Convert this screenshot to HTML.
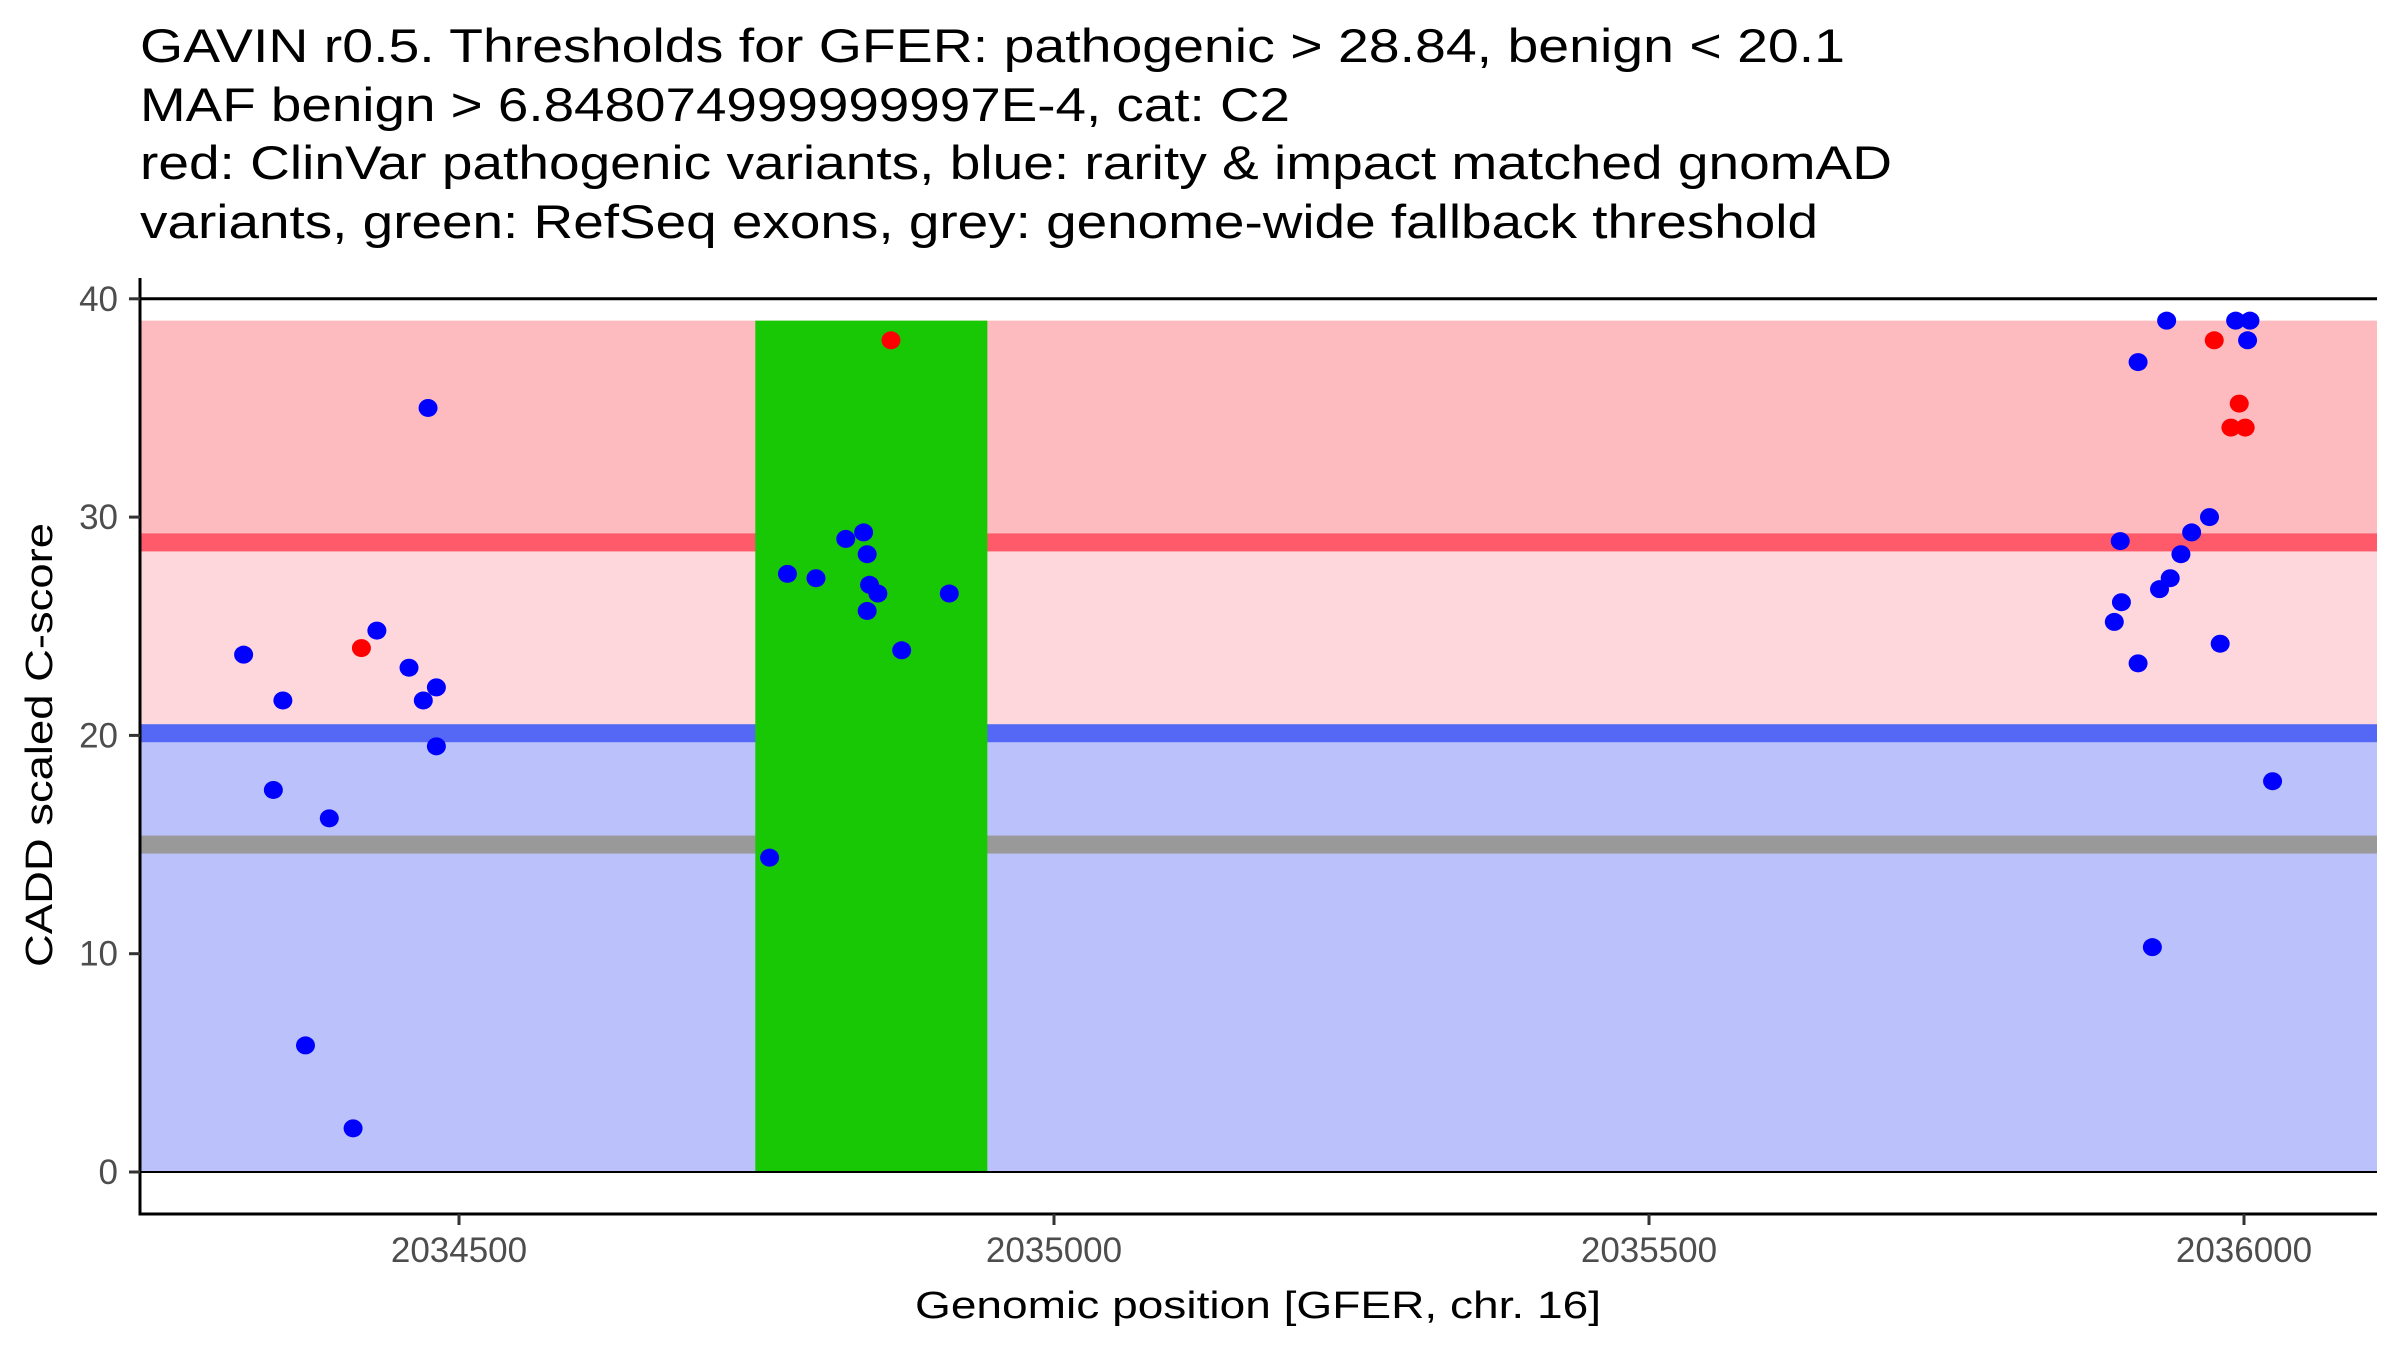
<!DOCTYPE html>
<html><head><meta charset="utf-8"><style>
html,body{margin:0;padding:0;background:#fff;}
svg{display:block;}
text{font-family:"Liberation Sans",Arial,sans-serif;}
</style></head><body>
<svg id="chart" width="2400" height="1350" viewBox="0 0 2400 1350" xmlns="http://www.w3.org/2000/svg">
<g font-size="47" fill="#000">
<text x="140" y="62" textLength="1705" lengthAdjust="spacingAndGlyphs">GAVIN r0.5. Thresholds for GFER: pathogenic &gt; 28.84, benign &lt; 20.1</text>
<text x="140" y="121" textLength="1150" lengthAdjust="spacingAndGlyphs">MAF benign &gt; 6.848074999999997E-4, cat: C2</text>
<text x="140" y="179" textLength="1752" lengthAdjust="spacingAndGlyphs">red: ClinVar pathogenic variants, blue: rarity &amp; impact matched gnomAD</text>
<text x="140" y="238" textLength="1678" lengthAdjust="spacingAndGlyphs">variants, green: RefSeq exons, grey: genome-wide fallback threshold</text>
</g>
<g id="bands"></g>
<g id="marks"></g>
<g id="axes"></g>
<text transform="translate(52,745) rotate(-90)" text-anchor="middle" font-size="38" textLength="444" lengthAdjust="spacingAndGlyphs">CADD scaled C-score</text>
<text x="1258" y="1318" text-anchor="middle" font-size="38" textLength="686" lengthAdjust="spacingAndGlyphs">Genomic position [GFER, chr. 16]</text>
</svg>
<script>
const xTicks = [2034500, 2035000, 2035500, 2036000];
const yTicks = [0, 10, 20, 30, 40];
const thrPathogenic = 28.84;
const thrBenign = 20.1;
const thrFallback = 15;
const bandTop = 39;
const exonStart = 2034749;
const exonEnd = 2034944;
const blueX = [2034319,2034344,2034352,2034371,2034391,2034411,2034431,2034458,2034474,2034470,2034481,2034481,
 2034761,2034776,2034800,2034825,2034840,2034843,2034845,2034852,2034843,2034872,2034912,
 2035891,2035896,2035897,2035911,2035911,2035923,2035929,2035935,2035938,2035947,2035956,2035971,2035980,2035993,2036005,2036003,2036024];
const blueY = [23.7,17.5,21.6,5.8,16.2,2.0,24.8,23.1,35.0,21.6,22.2,19.5,
 14.4,27.4,27.2,29.0,29.3,28.3,26.9,26.5,25.7,23.9,26.5,
 25.2,28.9,26.1,37.1,23.3,10.3,26.7,39.0,27.2,28.3,29.3,30.0,24.2,39.0,39.0,38.1,17.9];
const redX = [2034418, 2034863, 2035975, 2035996, 2035989, 2036001];
const redY = [24.0, 38.1, 38.1, 35.2, 34.1, 34.1];

const L=140, R=2377, T=278, B=1214;
const X = v => 459 + (v - 2034500) * (595/500);
const Y = v => 1172 - v * 21.83;
const NS="http://www.w3.org/2000/svg";
function mk(tag, parent, attrs){const e=document.createElementNS(NS,tag);for(const k in attrs)e.setAttribute(k,attrs[k]);parent.appendChild(e);return e;}
const bands=document.getElementById('bands'), marks=document.getElementById('marks'), axes=document.getElementById('axes');

let e;
e=mk('rect',bands,{x:L,y:Y(bandTop),width:R-L,height:Y(thrPathogenic)-Y(bandTop),fill:'#fdbbc0'});


e=mk('rect',bands,{x:L,y:Y(thrPathogenic),width:R-L,height:Y(thrBenign)-Y(thrPathogenic),fill:'#fdd7dc'});


e=mk('rect',bands,{x:L,y:Y(thrBenign),width:R-L,height:Y(0)-Y(thrBenign),fill:'#bbc1fa'});


e=mk('rect',bands,{x:L,y:Y(thrPathogenic)-9,width:R-L,height:18,fill:'#ff5a6a'});


e=mk('rect',bands,{x:L,y:Y(thrBenign)-9,width:R-L,height:18,fill:'#5468f5'});


e=mk('rect',bands,{x:L,y:Y(thrFallback)-9,width:R-L,height:18,fill:'#999999'});


e=mk('rect',bands,{x:X(exonStart),y:Y(bandTop),width:X(exonEnd)-X(exonStart),height:Y(0)-Y(bandTop),fill:'#19c805'});


e=mk('line',bands,{x1:L,x2:R,y1:Y(40),y2:Y(40),stroke:'#000','stroke-width':3});


e=mk('line',bands,{x1:L,x2:R,y1:Y(0),y2:Y(0),stroke:'#000','stroke-width':2});



for(let i=0;i<blueX.length;i++){
  const c=mk('ellipse',marks,{cx:X(blueX[i]),cy:Y(blueY[i]),rx:9.5,ry:9,fill:'#0000ff'});
  
  
}
for(let i=0;i<redX.length;i++){
  const c=mk('ellipse',marks,{cx:X(redX[i]),cy:Y(redY[i]),rx:9.5,ry:9,fill:'#ff0000'});
  
  
}

e=mk('line',axes,{x1:L,x2:L,y1:T,y2:B+1.5,stroke:'#000','stroke-width':3});


e=mk('line',axes,{x1:L-1.5,x2:R,y1:B,y2:B,stroke:'#000','stroke-width':3});


for(const t of yTicks){
  const tk=mk('line',axes,{x1:L-11,x2:L,y1:Y(t),y2:Y(t),stroke:'#333','stroke-width':3});
  
  
  const lb=mk('text',axes,{x:L-22,y:Y(t)+12,'text-anchor':'end','font-size':35,fill:'#4d4d4d'});
  lb.textContent=t;
  
  
}
for(const t of xTicks){
  const tk=mk('line',axes,{x1:X(t),x2:X(t),y1:B,y2:B+11,stroke:'#333','stroke-width':3});
  
  
  const lb=mk('text',axes,{x:X(t),y:B+48,'text-anchor':'middle','font-size':35,fill:'#4d4d4d'});
  lb.textContent=t;
  
  
}
</script>
</body></html>
